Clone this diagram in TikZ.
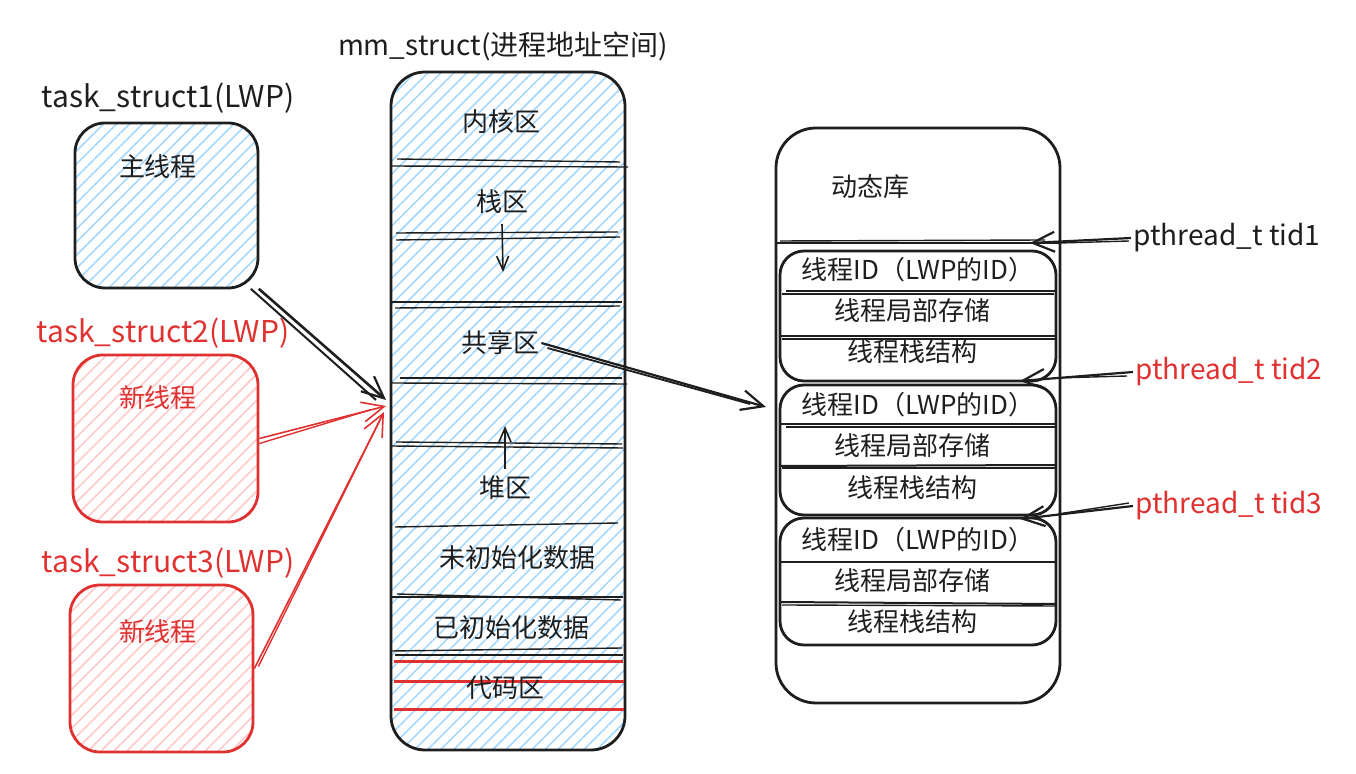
\documentclass[tikz,border=0pt]{standalone}
\usepackage{fontspec}
\setmainfont{Noto Sans CJK SC}
\usetikzlibrary{patterns.meta,arrows.meta}
\definecolor{ink}{HTML}{1E1E1E}
\definecolor{redink}{HTML}{E03131}
\definecolor{bluefill}{HTML}{A5D8FF}
\definecolor{redfill}{HTML}{FFC9C9}
\begin{document}
\begin{tikzpicture}[x=0.5pt,y=-0.5pt,
  box/.style={draw=ink,line width=1.4pt,inner sep=0pt},
  redbox/.style={draw=redink,line width=1.4pt,inner sep=0pt},
  bluehatch/.style={pattern={Lines[angle=45,distance=4.6pt,line width=0.8pt]},pattern color=bluefill},
  redhatch/.style={pattern={Lines[angle=45,distance=4.6pt,line width=0.8pt]},pattern color=redfill},
  cjk/.style={font=\fontsize{13}{15}\selectfont,text=ink,inner sep=1pt},
  lat/.style={font=\fontsize{14}{16}\selectfont,text=ink,inner sep=1pt},
  sep/.style={draw=ink,line width=0.7pt},
  redsep/.style={draw=redink,line width=1.5pt},
  arr/.style={draw=ink,line width=1.1pt,-{Straight Barb[length=11pt,width=10pt,line width=1.1pt]}},
  redarr/.style={draw=redink,line width=0.8pt,-{Straight Barb[length=11pt,width=10pt,line width=0.8pt]}},
]
\useasboundingbox (0,0) rectangle (1356,774);

% ---------- left task boxes ----------
\node[box,bluehatch,rounded corners=15pt,minimum width=91.5pt,minimum height=82.5pt] (b1) at (166.5,205.5) {};
\node[redbox,redhatch,rounded corners=15pt,minimum width=92.5pt,minimum height=83.5pt] (b2) at (165.5,438.5) {};
\node[redbox,redhatch,rounded corners=15pt,minimum width=91.5pt,minimum height=83.5pt] (b3) at (161.5,668.5) {};

\node[lat,font=\fontsize{15}{17}\selectfont] (l1) at (168,98) {task\_struct1(LWP)};
\node[lat,font=\fontsize{15}{17}\selectfont,text=redink] (l2) at (163,333) {task\_struct2(LWP)};
\node[lat,font=\fontsize{15}{17}\selectfont,text=redink] (l3) at (168,563) {task\_struct3(LWP)};
\node[cjk] (t1) at (158,167) {主线程};
\node[cjk,text=redink] (t2) at (158,398) {新线程};
\node[cjk,text=redink] (t3) at (158,632) {新线程};

% ---------- mm_struct ----------
\node[box,bluehatch,rounded corners=17pt,minimum width=117pt,minimum height=339pt] (mm) at (508,411) {};
\node[lat] (mml) at (503,46) {mm\_struct(进程地址空间)};

\draw[sep] (397,159) -- (620,162);
\draw[sep] (391,166) -- (628,167);
\draw[sep] (396,233) -- (618,232);
\draw[sep] (396,240) -- (620,237);
\draw[sep] (391,302) -- (622,302);
\draw[sep] (395,308) -- (620,306);
\draw[sep] (400,378) -- (622,378);
\draw[sep] (391,383) -- (627,384);
\draw[sep] (396,442) -- (622,444);
\draw[sep] (391,446) -- (623,448);
\draw[sep] (395,527) -- (618,523);
\draw[sep] (397,594) -- (621,600);
\draw[sep] (391,597) -- (623,597);
\draw[sep] (391,651) -- (622,648);
\draw[sep] (395,655) -- (623,655);
\draw[redsep] (394,662) -- (623,662);
\draw[redsep] (394,682) -- (624,682);
\draw[redsep] (394,710) -- (624,710);

\node[cjk] (kern) at (501,122) {内核区};
\node[cjk] (stack) at (502,202) {栈区};
\node[cjk] (shared) at (500,343) {共享区};
\node[cjk] (heap) at (505,488) {堆区};
\node[cjk] (bss) at (517,558) {未初始化数据};
\node[cjk] (data) at (511,628) {已初始化数据};
\node[cjk] (code) at (505,688) {代码区};

\coordinate (sdn) at (503,272);
\coordinate (hup) at (505,426);
\draw[draw=ink,line width=0.8pt,-{Straight Barb[length=7pt,width=6pt,line width=0.8pt]}] (502,224) -- (sdn);
\draw[draw=ink,line width=0.8pt,-{Straight Barb[length=7pt,width=6pt,line width=0.8pt]}] (505,469) -- (hup);

% ---------- dynamic library ----------
\node[box,rounded corners=20pt,minimum width=142pt,minimum height=287.5pt] (lib) at (918,415.5) {};
\node[cjk] (libt) at (870,187) {动态库};
\draw[sep,line width=1.3pt] (776,243) -- (1060,243);
\draw[sep] (780,241) -- (1045,240);

\node[box,rounded corners=12pt,minimum width=138pt,minimum height=65pt] (s1) at (918,316) {};
\node[box,rounded corners=12pt,minimum width=138pt,minimum height=65pt] (s2) at (918,450) {};
\node[box,rounded corners=12pt,minimum width=138pt,minimum height=63.5pt] (s3) at (918,581.5) {};

\draw[sep,line width=1pt] (786,291) -- (1056,291);
\draw[sep] (782,294) -- (1054,294);
\draw[sep,line width=1pt] (780,336) -- (1056,336);
\draw[sep] (782,339) -- (1056,339);
\draw[sep,line width=1pt] (781,424) -- (1055,424);
\draw[sep] (786,427) -- (1056,427);
\draw[sep,line width=1pt] (779,466) -- (1056,465);
\draw[sep] (782,468) -- (1056,468);
\draw[sep,line width=1pt] (781,562) -- (1056,562);
\draw[sep,line width=1pt] (779,602) -- (1056,604);
\draw[sep] (782,605) -- (1056,606);

\node[cjk] (s1a) at (918,270) {线程ID（LWP的ID）};
\node[cjk] (s1b) at (912,311) {线程局部存储};
\node[cjk] (s1c) at (912,352) {线程栈结构};
\node[cjk] (s2a) at (918,405) {线程ID（LWP的ID）};
\node[cjk] (s2b) at (912,446) {线程局部存储};
\node[cjk] (s2c) at (912,488) {线程栈结构};
\node[cjk] (s3a) at (918,540) {线程ID（LWP的ID）};
\node[cjk] (s3b) at (912,581) {线程局部存储};
\node[cjk] (s3c) at (912,622) {线程栈结构};

% ---------- tid labels ----------
\node[lat,anchor=west] (tid1) at (1131,238) {pthread\_t tid1};
\node[lat,anchor=west,text=redink] (tid2) at (1133,372) {pthread\_t tid2};
\node[lat,anchor=west,text=redink] (tid3) at (1133,506) {pthread\_t tid3};

\coordinate (e1) at (1030,243);
\coordinate (e2) at (1020,381);
\coordinate (e3) at (1020,519);
\draw[arr] (tid1.west) -- (e1);
\draw[draw=ink,line width=0.7pt] (tid1.west) ++(-2,3) -- (1060,243);
\draw[arr] (tid2.west) -- (e2);
\draw[draw=ink,line width=0.7pt] (tid2.west) ++(-6,4) -- (1056,378);
\draw[arr] (tid3.west) -- (e3);
\draw[draw=ink,line width=0.7pt] (tid3.west) ++(-4,-3) -- (1058,514);

% ---------- arrows into mm_struct ----------
\coordinate (m1) at (386,400);
\coordinate (m2) at (386,406);
\coordinate (m3) at (384,412);
\draw[arr,line width=1.3pt] (b1.south east) -- (m1);
\draw[draw=ink,line width=1pt] ([xshift=-4pt]b1.south east) -- (376,400);
\draw[redarr] (b2.east) -- (m2);
\draw[draw=redink,line width=0.7pt] ([shift={(0,5)}]b2.east) -- (370,410);
\draw[redarr] (b3.east) -- (m3);
\draw[draw=redink,line width=0.7pt] ([shift={(4,-2)}]b3.east) -- (380,420);

% shared -> library
\coordinate (m4) at (766,407);
\draw[arr] (shared.east) -- (m4);
\draw[draw=ink,line width=0.9pt] ([shift={(6,5)}]shared.east) -- (750,404);
\end{tikzpicture}
\end{document}
